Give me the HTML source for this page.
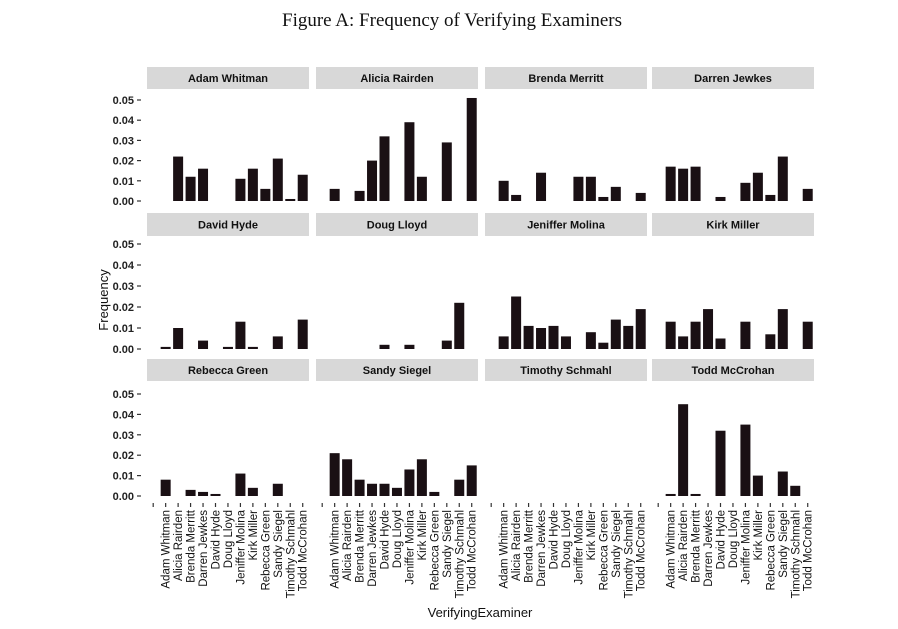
<!DOCTYPE html>
<html><head><meta charset="utf-8"><style>
body{margin:0;background:#fff;}
svg{display:block;font-family:"Liberation Sans",Arial,sans-serif;}
</style></head><body>
<svg id="s" width="898" height="629" viewBox="0 0 898 629" xmlns="http://www.w3.org/2000/svg">
<text x="452" y="26" text-anchor="middle" font-family="Liberation Serif,serif" font-size="19" fill="#111">Figure A: Frequency of Verifying Examiners</text>
<text x="480" y="617" text-anchor="middle" font-size="13" fill="#111">VerifyingExaminer</text>
<text transform="translate(108,300) rotate(-90)" text-anchor="middle" font-size="13" fill="#111">Frequency</text>
</svg>
<script>
var s=document.getElementById('s'),NS='http://www.w3.org/2000/svg';
function el(t,a,txt){var e=document.createElementNS(NS,t);for(var k in a)e.setAttribute(k,a[k]);if(txt)e.textContent=txt;s.appendChild(e);return e;}
var names=["Adam Whitman","Alicia Rairden","Brenda Merritt","Darren Jewkes","David Hyde","Doug Lloyd","Jeniffer Molina","Kirk Miller","Rebecca Green","Sandy Siegel","Timothy Schmahl","Todd McCrohan"];
var cols=[147,316,485,652],W=162;
var rows=[{st:67,sb:89,zero:201,top:100},{st:213,sb:236,zero:349,top:244},{st:359,sb:381,zero:496,top:394}];
var data=[
{1:0,2:.022,3:.012,4:.016,7:.011,8:.016,9:.006,10:.021,11:.001,12:.013},
{1:.006,3:.005,4:.020,5:.032,7:.039,8:.012,10:.029,12:.051},
{1:.010,2:.003,4:.014,7:.012,8:.012,9:.002,10:.007,12:.004},
{1:.017,2:.016,3:.017,5:.002,7:.009,8:.014,9:.003,10:.022,12:.006},
{1:.001,2:.010,4:.004,6:.001,7:.013,8:.001,10:.006,12:.014},
{5:.002,7:.002,10:.004,11:.022},
{1:.006,2:.025,3:.011,4:.010,5:.011,6:.006,8:.008,9:.003,10:.014,11:.011,12:.019},
{1:.013,2:.006,3:.013,4:.019,5:.005,7:.013,9:.007,10:.019,12:.013},
{1:.008,3:.003,4:.002,5:.001,7:.011,8:.004,10:.006},
{1:.021,2:.018,3:.008,4:.006,5:.006,6:.004,7:.013,8:.018,9:.002,11:.008,12:.015},
{},
{1:.001,2:.045,3:.001,5:.032,7:.035,8:.010,10:.012,11:.005}];
for(var r=0;r<3;r++){var R=rows[r],sc=(R.zero-R.top)/0.05;
 for(var t=0;t<=5;t++){var y=R.zero-t*0.01*sc;
  el('text',{x:134,y:y+4,'text-anchor':'end','font-size':'11','font-weight':'bold',fill:'#222'},'0.0'+t);
  el('line',{x1:137,x2:141,y1:y,y2:y,stroke:'#333','stroke-width':1.2});}
 for(var c=0;c<4;c++){var i=r*4+c,x0=cols[c];
  el('rect',{x:x0,y:R.st,width:W,height:R.sb-R.st,fill:'#d8d8d8'});
  el('text',{x:x0+W/2,y:R.st+(R.sb-R.st)/2+4,'text-anchor':'middle','font-size':'11','font-weight':'bold',fill:'#111'},names[i]);
  var d=data[i];for(var k in d){var v=d[k];if(!v)continue;var cx=x0+6.2+12.46*k,h=Math.max(1.5,v*sc);
   el('rect',{x:cx-5,y:R.zero-h,width:10,height:h,fill:'#1a1014'});}
  if(r==2){for(var k=0;k<13;k++){var cx=x0+6.2+12.46*k;
   el('line',{x1:cx,x2:cx,y1:503,y2:507,stroke:'#333','stroke-width':1.2});
   if(k>0)el('text',{transform:'translate('+(cx+4)+',510) rotate(-90)','text-anchor':'end','font-size':'11.5',fill:'#111'},names[k-1]);}}
 }}
</script>
</body></html>
